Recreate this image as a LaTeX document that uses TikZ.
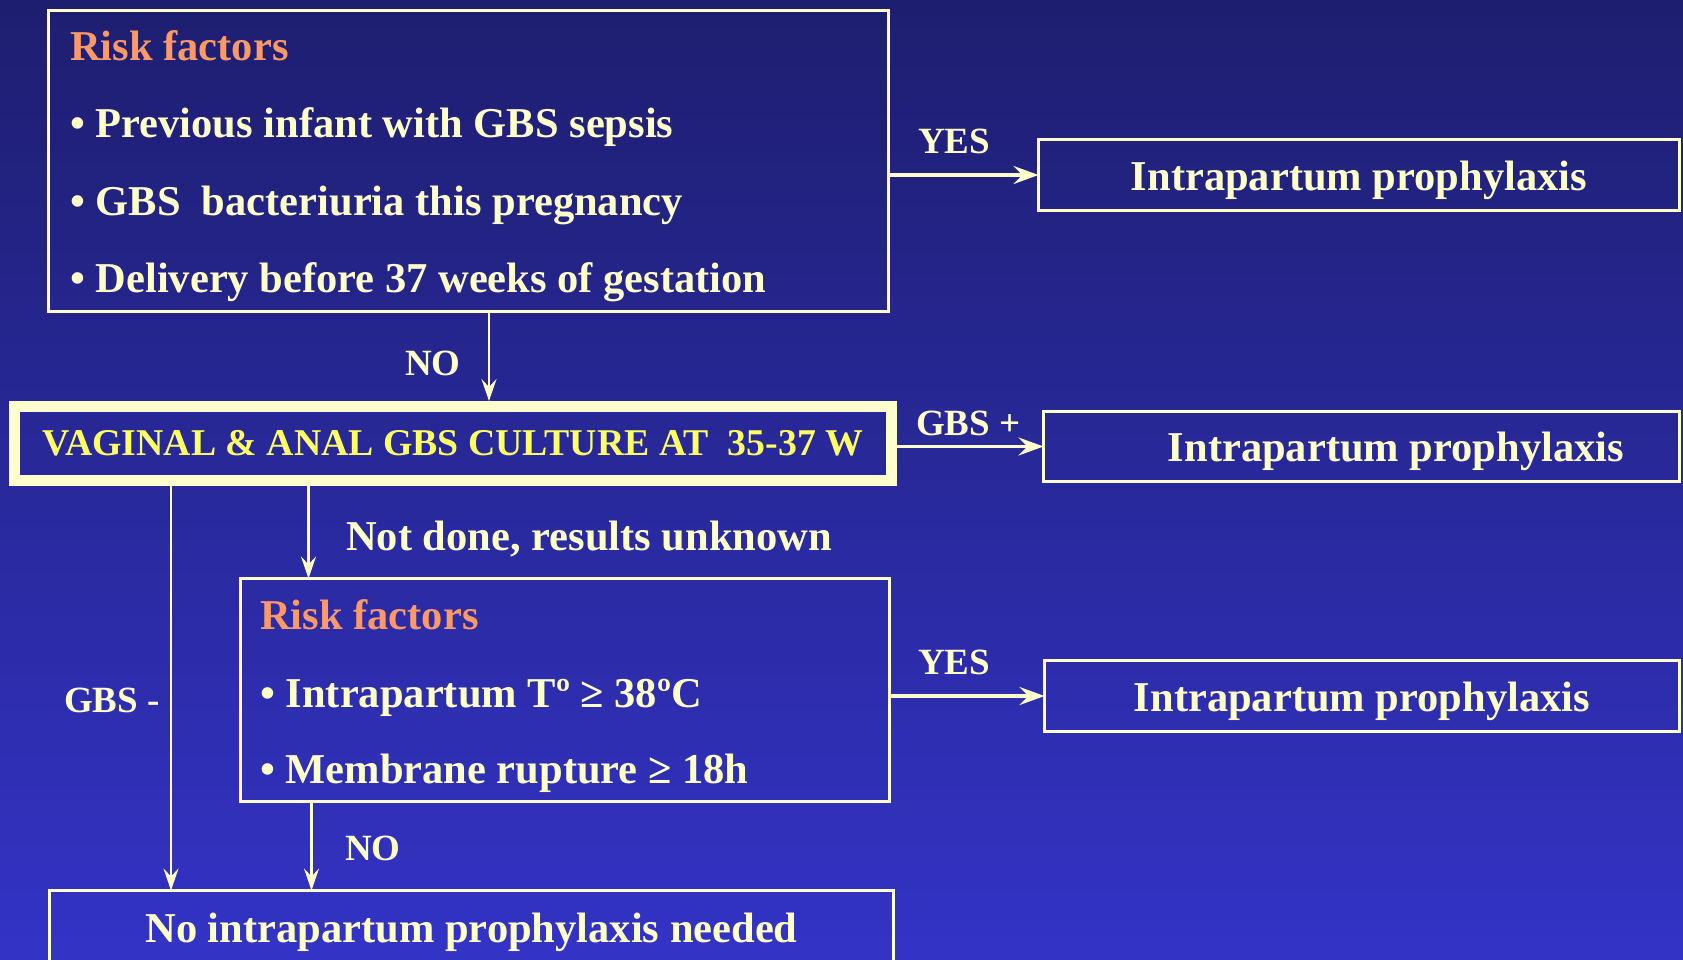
\documentclass[tikz,border=0pt]{standalone}
\usepackage{fontspec}
\setmainfont{Liberation Serif}
\usetikzlibrary{arrows.meta}
\definecolor{bgtop}{RGB}{30,30,112}
\definecolor{bgbot}{RGB}{51,51,198}
\definecolor{paleyellow}{RGB}{255,255,204}
\definecolor{cultyellow}{RGB}{255,255,102}
\definecolor{rforange}{RGB}{255,153,102}
\newcommand\gbsbig{\bfseries\fontsize{42.5}{50}\selectfont}
\newcommand\gbssmall{\bfseries\fontsize{37}{44}\selectfont}
\newcommand\gbsculture{\bfseries\fontsize{37.8}{45}\selectfont}
\begin{document}
\begin{tikzpicture}[x=1pt,y=1pt,
    flowbox/.style={draw=paleyellow, line width=3pt, inner sep=0pt, outer sep=0pt, anchor=north west},
    ipbox/.style={flowbox, minimum height=71pt, text height=38pt, text depth=8pt, font=\gbsbig, text=paleyellow},
    txt/.style={anchor=base west, inner sep=0pt, font=\gbsbig, text=paleyellow},
    lbl/.style={anchor=base west, inner sep=0pt, font=\gbssmall, text=paleyellow},
    arr/.style={draw=paleyellow, line width=2.5pt, -{Stealth[length=22pt,width=15pt,inset=8pt]}},
    harr/.style={arr, line width=3.5pt, -{Stealth[length=25pt,width=18pt,inset=9pt]}}]
  \shade[top color=bgtop, bottom color=bgbot] (0,0) rectangle (1683,-959);
  \useasboundingbox (0,0) rectangle (1683,-959);
  % first risk factors
  \node[flowbox, minimum width=840pt, minimum height=301pt] (riskone) at (48.5,-10.5) {};
  \node[txt, text=rforange] (rfhead) at (70,-60) {Risk factors};
  \node[txt] (rfa) at (70,-137) {• Previous infant with GBS sepsis};
  \node[txt] (rfb) at (70,-215) {• GBS\ \ bacteriuria this pregnancy};
  \node[txt] (rfc) at (70,-292) {• Delivery before 37 weeks of gestation};
  \node[ipbox, minimum width=641pt] (ipone) at (1038.5,-139.5) {Intrapartum prophylaxis};
  % culture
  \node[flowbox, line width=11pt, minimum width=877pt, minimum height=74pt, font=\gbsculture, text=cultyellow] (culture) at (14.5,-406.5) {VAGINAL \& ANAL GBS CULTURE AT\ \ 35-37 W};
  \node[ipbox, minimum width=636pt, minimum height=70pt] (iptwo) at (1043.5,-411.5) {\hspace*{69pt}Intrapartum prophylaxis};
  % second risk factors
  \node[flowbox, minimum width=649pt, minimum height=223pt] (risktwo) at (240.5,-578.5) {};
  \node[txt, text=rforange] (rfhead2) at (260,-629) {Risk factors};
  \node[txt] (rfd) at (260,-707) {• Intrapartum Tº ≥ 38ºC};
  \node[txt] (rfe) at (260,-783) {• Membrane rupture ≥ 18h};
  \node[ipbox, minimum width=635pt] (ipthree) at (1044.5,-660.5) {Intrapartum prophylaxis};
  \node[ipbox, minimum width=844pt, minimum height=73pt] (noneed) at (49.5,-890.5) {No intrapartum prophylaxis needed};
  % labels
  \node[lbl] (yesone) at (918,-153) {YES};
  \node[lbl] (noone) at (405,-375) {NO};
  \node[lbl] (gbspos) at (916,-435) {GBS +};
  \node[txt] (notdone) at (346,-550) {Not done, results unknown};
  \node[lbl] (gbsneg) at (64,-712) {GBS -};
  \node[lbl] (yestwo) at (918,-674) {YES};
  \node[lbl] (notwo) at (345,-860) {NO};
  % arrows
  \draw[harr] (ipone.west -| riskone.east) -- (ipone.west);
  \draw[arr, shorten >=5.5pt] (riskone.south) ++(20.5,0) coordinate (nodown) -- (nodown |- culture.north);
  \draw[harr] (iptwo.west -| culture.east) -- (iptwo.west);
  \draw[arr, shorten <=5.5pt] (culture.south west) ++(156.5,0) coordinate (negdown) -- (negdown |- noneed.north);
  \draw[arr, shorten <=5.5pt] (culture.south west) ++(294,0) coordinate (nddown) -- (nddown |- risktwo.north);
  \draw[harr] (ipthree.west -| risktwo.east) -- (ipthree.west);
  \draw[arr] (risktwo.south west) ++(71,0) coordinate (notdown) -- (notdown |- noneed.north);
\end{tikzpicture}
\end{document}
